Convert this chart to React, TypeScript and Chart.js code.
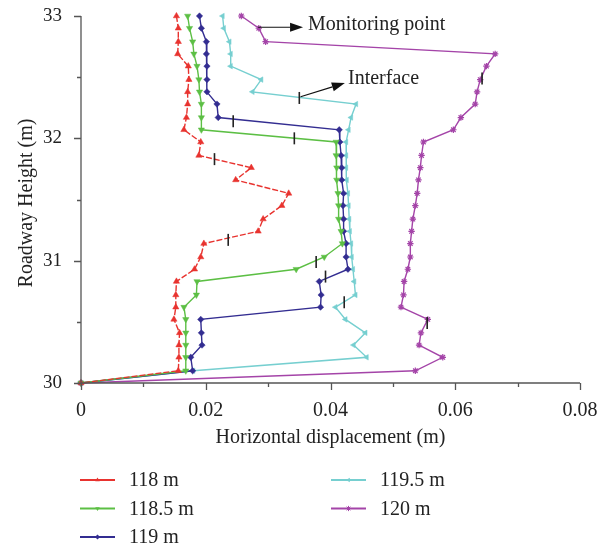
import React, { useEffect, useRef } from "react";
import { Chart, registerables } from "chart.js";
Chart.register(...registerables);

// Monitoring heights (m), top to bottom
const heights = [33.0, 32.9, 32.79, 32.69, 32.59, 32.48, 32.38, 32.28, 32.17, 32.07, 31.97, 31.86, 31.76, 31.66, 31.55, 31.45, 31.34, 31.24, 31.14, 31.03, 30.93, 30.83, 30.72, 30.62, 30.52, 30.41, 30.31, 30.21, 30.1, 30.0];

const disp118 = [0.0153, 0.0156, 0.0156, 0.0155, 0.0172, 0.0173, 0.0171, 0.0171, 0.0169, 0.0165, 0.0192, 0.0189, 0.0273, 0.0248, 0.0333, 0.0322, 0.0292, 0.0284, 0.0197, 0.0192, 0.0182, 0.0153, 0.0152, 0.0152, 0.0149, 0.0158, 0.0157, 0.0157, 0.0156, 0];
const disp1185 = [0.0171, 0.0174, 0.0179, 0.0181, 0.0186, 0.0189, 0.019, 0.0193, 0.0193, 0.0193, 0.0409, 0.0409, 0.041, 0.041, 0.0412, 0.0413, 0.0413, 0.0417, 0.0419, 0.039, 0.0345, 0.0186, 0.0185, 0.0165, 0.0168, 0.0168, 0.0168, 0.0168, 0.0168, 0];
const disp119 = [0.019, 0.0193, 0.0201, 0.0201, 0.0202, 0.0202, 0.0202, 0.0218, 0.022, 0.0414, 0.0415, 0.0417, 0.0418, 0.0418, 0.0421, 0.042, 0.0421, 0.0421, 0.0425, 0.0425, 0.0428, 0.0382, 0.0385, 0.0384, 0.0192, 0.0193, 0.0194, 0.0176, 0.0179, 0];
const disp1195 = [0.0227, 0.0229, 0.0238, 0.024, 0.024, 0.0289, 0.0275, 0.0441, 0.0433, 0.0429, 0.0425, 0.0425, 0.0425, 0.0426, 0.0428, 0.0429, 0.043, 0.0431, 0.0433, 0.0434, 0.0436, 0.0438, 0.044, 0.0408, 0.0424, 0.0456, 0.0437, 0.0458, 0.018, 0];
const disp120 = [0.0257, 0.0285, 0.0296, 0.0664, 0.065, 0.064, 0.0635, 0.0632, 0.0609, 0.0597, 0.0549, 0.0546, 0.0544, 0.0541, 0.0539, 0.0536, 0.0532, 0.053, 0.0528, 0.0528, 0.0524, 0.0518, 0.0517, 0.0513, 0.0556, 0.0545, 0.0542, 0.058, 0.0536, 0];

const interfaceX = [0.0214, 0.0236, 0.0342, 0.0377, 0.0244, 0.0392, 0.035, 0.0422, 0.0643, 0.0555];
const interfaceY = [31.83, 31.17, 32.0, 30.99, 32.14, 30.87, 32.33, 30.66, 32.49, 30.49];

const seriesLabels = ["118 m", "118.5 m", "119 m", "119.5 m", "120 m"];
const xTicks = [0, 0.02, 0.04, 0.06, 0.08];
const yTicks = [30, 31, 32, 33];

// annotations (data coordinates)
const monitorArrow = { x1: 0.0284, y1: 32.908, x2: 0.0356, y2: 32.908, tx: 0.0364, ty: 32.926, text: "Monitoring point" };
const interfaceArrow = { x1: 0.0352, y1: 32.34, x2: 0.0423, y2: 32.452, tx: 0.0428, ty: 32.485, text: "Interface" };

const FONT = '"Liberation Serif", "Times New Roman", serif';
const colors = ["#e8332f", "#5cbf44", "#332d91", "#76cfd0", "#a444a8"];
const markers = [
  { style: "triangle", rot: 0, r: 3.6 },
  { style: "triangle", rot: 180, r: 3.6 },
  { style: "rectRot", rot: 0, r: 3.2 },
  { style: "triangle", rot: -90, r: 3.2 },
  { style: "star", rot: 0, r: 3.2 },
];

function drawMarker(ctx: CanvasRenderingContext2D, style: string, rot: number, cx: number, cy: number, r: number, color: string) {
  ctx.save();
  ctx.translate(cx, cy);
  ctx.rotate((rot * Math.PI) / 180);
  ctx.fillStyle = color;
  ctx.strokeStyle = color;
  ctx.lineWidth = 1;
  ctx.beginPath();
  if (style === "triangle") {
    ctx.moveTo(0, -r);
    ctx.lineTo(-r * 0.87, r * 0.5);
    ctx.lineTo(r * 0.87, r * 0.5);
    ctx.closePath();
    ctx.fill();
  } else if (style === "rectRot") {
    ctx.moveTo(0, -r);
    ctx.lineTo(r, 0);
    ctx.lineTo(0, r);
    ctx.lineTo(-r, 0);
    ctx.closePath();
    ctx.fill();
  } else {
    for (let i = 0; i < 4; i++) {
      const a = (i * Math.PI) / 4;
      ctx.moveTo(Math.cos(a) * r, Math.sin(a) * r);
      ctx.lineTo(-Math.cos(a) * r, -Math.sin(a) * r);
    }
    ctx.stroke();
  }
  ctx.restore();
}

function arrow(ctx: CanvasRenderingContext2D, x1: number, y1: number, x2: number, y2: number) {
  const ang = Math.atan2(y2 - y1, x2 - x1);
  const hl = 13, hw = 4.5;
  const bx = x2 - Math.cos(ang) * hl, by = y2 - Math.sin(ang) * hl;
  ctx.beginPath();
  ctx.moveTo(x1, y1);
  ctx.lineTo(bx, by);
  ctx.stroke();
  ctx.beginPath();
  ctx.moveTo(x2, y2);
  ctx.lineTo(bx + Math.sin(ang) * hw, by - Math.cos(ang) * hw);
  ctx.lineTo(bx - Math.sin(ang) * hw, by + Math.cos(ang) * hw);
  ctx.closePath();
  ctx.fill();
}

const decor = {
  id: "decor",
  afterDraw(chart: any) {
    const ctx: CanvasRenderingContext2D = chart.ctx;
    const xs = chart.scales.x, ys = chart.scales.y;
    const { left, right, top, bottom } = chart.chartArea;
    ctx.save();
    // axes
    ctx.strokeStyle = "#555";
    ctx.lineWidth = 1.3;
    ctx.beginPath();
    ctx.moveTo(left, top);
    ctx.lineTo(left, bottom);
    ctx.lineTo(right, bottom);
    ctx.stroke();
    // x ticks (outward)
    ctx.beginPath();
    for (let v = 0; v <= 8; v++) {
      const px = Math.round(xs.getPixelForValue(v / 100)) + 0.5;
      const len = v % 2 === 0 ? 7 : 4;
      ctx.moveTo(px, bottom);
      ctx.lineTo(px, bottom + len);
    }
    // y ticks (outward)
    for (let v = 0; v <= 6; v++) {
      const py = Math.round(ys.getPixelForValue(30 + v / 2)) + 0.5;
      const len = v % 2 === 0 ? 7 : 4;
      ctx.moveTo(left, py);
      ctx.lineTo(left - len, py);
    }
    ctx.stroke();

    // axis titles
    ctx.fillStyle = "#222";
    ctx.font = `20px ${FONT}`;
    ctx.textAlign = "center";
    ctx.textBaseline = "alphabetic";
    ctx.fillText("Horizontal displacement (m)", (left + right) / 2, 443);
    ctx.save();
    ctx.translate(32, 203);
    ctx.rotate(-Math.PI / 2);
    ctx.fillText("Roadway Height (m)", 0, 0);
    ctx.restore();

    // annotations
    ctx.strokeStyle = "#111";
    ctx.fillStyle = "#111";
    ctx.lineWidth = 1.2;
    for (const a of [monitorArrow, interfaceArrow]) {
      arrow(ctx, xs.getPixelForValue(a.x1), ys.getPixelForValue(a.y1), xs.getPixelForValue(a.x2), ys.getPixelForValue(a.y2));
      ctx.fillStyle = "#222";
      ctx.textAlign = "left";
      ctx.textBaseline = "middle";
      ctx.font = `20px ${FONT}`;
      ctx.fillText(a.text, xs.getPixelForValue(a.tx), ys.getPixelForValue(a.ty));
      ctx.fillStyle = "#111";
    }

    // legend
    const cols = [80, 331];
    const rows = [480, 508.5, 537];
    seriesLabels.forEach((lab, i) => {
      const c = i < 3 ? 0 : 1;
      const r = i < 3 ? i : i - 3;
      const x0 = cols[c], y0 = rows[r];
      ctx.strokeStyle = colors[i];
      ctx.lineWidth = 1.8;
      ctx.beginPath();
      ctx.moveTo(x0, y0);
      ctx.lineTo(x0 + 35, y0);
      ctx.stroke();
      drawMarker(ctx, markers[i].style, markers[i].rot, x0 + 17.5, y0, 2.6, colors[i]);
      ctx.fillStyle = "#222";
      ctx.font = `20px ${FONT}`;
      ctx.textAlign = "left";
      ctx.textBaseline = "middle";
      ctx.fillText(lab, x0 + 49, y0 + 1);
    });
    ctx.restore();
  },
};

export default function App() {
  const ref = useRef<HTMLCanvasElement>(null);
  useEffect(() => {
    document.body.style.margin = "0";
    const mk = (xsArr: number[]) => xsArr.map((x, i) => ({ x, y: heights[i] }));
    const allSeries = [disp118, disp1185, disp119, disp1195, disp120];
    const datasets: any[] = [
      {
        label: "Interface",
        data: interfaceX.map((x, i) => ({ x, y: interfaceY[i] })),
        showLine: false,
        pointStyle: "line",
        rotation: 90,
        pointRadius: 6,
        pointBorderWidth: 1.6,
        pointBorderColor: "#222",
        pointBackgroundColor: "#222",
        clip: false,
      },
    ];
    allSeries.forEach((s, i) => {
      datasets.push({
        label: seriesLabels[i],
        data: mk(s),
        showLine: true,
        borderColor: colors[i],
        backgroundColor: colors[i],
        borderWidth: 1.4,
        borderDash: i === 0 ? [6, 2] : [],
        pointStyle: markers[i].style,
        rotation: markers[i].rot,
        pointRadius: markers[i].r,
        pointBorderWidth: markers[i].style === "star" ? 1.2 : 0.5,
        pointBorderColor: colors[i],
        pointBackgroundColor: colors[i],
        tension: 0,
        clip: false,
      });
    });
    const chart = new Chart(ref.current!, {
      type: "scatter",
      data: { datasets },
      options: {
        responsive: false,
        animation: false,
        layout: { padding: { left: 0, top: 16, right: 28, bottom: 102 } },
        plugins: { legend: { display: false }, tooltip: { enabled: false } },
        scales: {
          x: {
            type: "linear",
            min: 0,
            max: 0.08,
            grid: { display: false, drawTicks: false },
            border: { display: false },
            afterBuildTicks: (s: any) => {
              s.ticks = xTicks.map((v) => ({ value: v }));
            },
            ticks: {
              padding: 16,
              color: "#222",
              font: { family: FONT, size: 20 },
              callback: (v: any) => (Number(v) === 0 ? "0" : Number(v).toFixed(2)),
            },
            afterFit: (s: any) => {
              s.height = 64;
              s.paddingLeft = 0;
              s.paddingRight = 0;
            },
          },
          y: {
            type: "linear",
            min: 30,
            max: 33,
            grid: { display: false, drawTicks: false },
            border: { display: false },
            afterBuildTicks: (s: any) => {
              s.ticks = yTicks.map((v) => ({ value: v }));
            },
            ticks: {
              padding: 19,
              color: "#222",
              font: { family: FONT, size: 19 },
              callback: (v: any) => String(v),
            },
            afterFit: (s: any) => {
              s.width = 81;
              s.paddingTop = 0;
              s.paddingBottom = 0;
            },
          },
        },
      } as any,
      plugins: [decor],
    });
    return () => chart.destroy();
  }, []);
  return (
    <div style={{ position: "absolute", left: 0, top: 0, width: 608, height: 549, background: "#fff" }}>
      <canvas ref={ref} width={608} height={549} style={{ width: 608, height: 549 }} />
    </div>
  );
}
